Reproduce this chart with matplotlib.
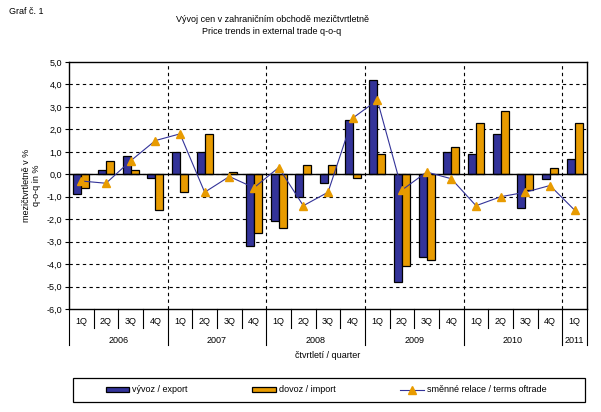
import matplotlib.pyplot as plt
import matplotlib.patches as mpatches
import numpy as np

plt.rcParams['font.family'] = ['Liberation Sans', 'DejaVu Sans']

years = ['2006', '2007', '2008', '2009', '2010', '2011']
quarters = ['1Q', '2Q', '3Q', '4Q'] * 5 + ['1Q']
export = [-0.9, 0.2, 0.8, -0.15, 1.0, 1.0, 0.0, -3.2,
          -2.1, -1.0, -0.4, 2.4, 4.2, -4.8, -3.7, 1.0,
          0.9, 1.8, -1.5, -0.2, 0.7]
imports = [-0.6, 0.6, 0.2, -1.6, -0.8, 1.8, 0.1, -2.6,
           -2.4, 0.4, 0.4, -0.15, 0.9, -4.1, -3.8, 1.2,
           2.3, 2.8, -0.7, 0.3, 2.3]
terms = [-0.3, -0.4, 0.6, 1.5, 1.8, -0.8, -0.1, -0.6,
         0.3, -1.4, -0.8, 2.5, 3.3, -0.7, 0.1, -0.2,
         -1.4, -1.0, -0.8, -0.5, -1.6]

navy = '#333399'
orange = '#E89B00'

fig = plt.figure(figsize=(6.01, 4.12), dpi=100)
ax = fig.add_axes([69/601, 1 - 309/412, 518/601, 247/412])

x = np.arange(len(quarters))
w = 0.32
b1 = ax.bar(x - w/2, export, w, color=navy, edgecolor='black', linewidth=0.9,
            label='vývoz / export', zorder=3)
b2 = ax.bar(x + w/2, imports, w, color=orange, edgecolor='black', linewidth=0.9,
            label='dovoz / import', zorder=3)
l1, = ax.plot(x, terms, color=navy, linewidth=0.8, marker='^', markersize=6,
              markerfacecolor=orange, markeredgecolor=orange,
              label='směnné relace / terms oftrade', zorder=4)
ax.axhline(0, color='black', linewidth=1, zorder=3)

ax.set_xlim(-0.5, len(quarters) - 0.5)
ax.set_ylim(-6, 5)
ticks = np.arange(-6, 6)
ax.set_yticks(ticks)
ax.set_yticklabels([f'{t:.1f}'.replace('.', ',') for t in ticks], fontsize=6.5)
ax.tick_params(axis='y', length=3, width=0.8, pad=2)
for t in ticks[1:-1]:
    ax.axhline(t, color='black', linestyle=(0, (3, 3)), linewidth=0.8, zorder=1)
for b in [3.5, 7.5, 11.5, 15.5, 19.5]:
    ax.axvline(b, color='black', linestyle=(0, (3, 3)), linewidth=0.8, zorder=1)

ax.set_xticks([])
for s in ax.spines.values():
    s.set_linewidth(1)

# category axis: quarters and years
tr = ax.get_xaxis_transform()
for i, q in enumerate(quarters):
    ax.text(i, -0.052, q, transform=tr, ha='center', va='center', fontsize=6.5)
for b in np.arange(-0.5, len(quarters)):
    is_year = (b + 0.5) % 4 == 0 or b == len(quarters) - 0.5
    y0 = -0.145 if is_year else -0.075
    ax.plot([b, b], [0, y0], transform=tr, color='black', linewidth=0.8,
            clip_on=False)
for k, yr in enumerate(years):
    n = 4 if k < 5 else 1
    ax.text(4 * k + (n - 1) / 2, -0.128, yr, transform=tr, ha='center',
            va='center', fontsize=6.5)
ax.text(0.5, -0.19, 'čtvrtletí / quarter', transform=ax.transAxes,
        ha='center', va='center', fontsize=6.5)

ax.set_ylabel('mezičtvrtletně v %\nq-o-q in %', fontsize=6.5, labelpad=4,
              linespacing=1.1)

fig.text(9/601, 1 - 11/412, 'Graf č. 1', fontsize=6.5, va='center')
fig.text(272/601, 1 - 20/412, 'Vývoj cen v zahraničním obchodě mezičtvrtletně',
         fontsize=6.5, ha='center', va='center')
fig.text(272/601, 1 - 32/412, 'Price trends in external trade q-o-q',
         fontsize=6.5, ha='center', va='center')

# legend box
fig.patches.append(mpatches.Rectangle((73/601, 1 - 402/412), 512/601, 24/412,
                                      transform=fig.transFigure, fill=False,
                                      edgecolor='black', linewidth=0.9))
leg = fig.legend([b1, b2, l1], [b1.get_label(), b2.get_label(), l1.get_label()],
                 loc='center', bbox_to_anchor=(326/601, 1 - 390/412), ncol=3,
                 fontsize=6.5, frameon=False, handlelength=2.6,
                 handleheight=0.45, columnspacing=7.2, handletextpad=0.3)

fig.savefig('out.png', dpi=100)
